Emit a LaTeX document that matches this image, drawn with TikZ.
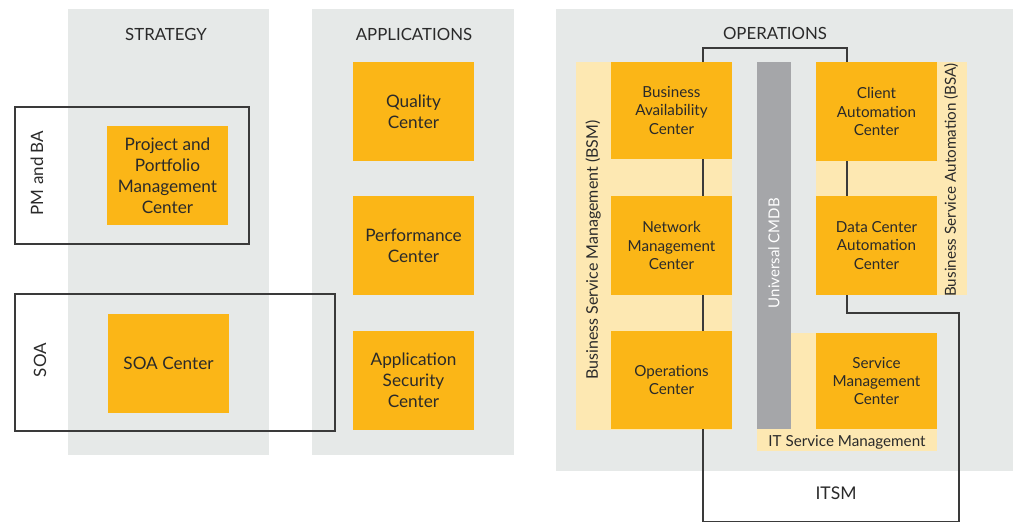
\documentclass[tikz,border=0pt]{standalone}
\usepackage{fontspec}
\setmainfont{Lato}
\usetikzlibrary{positioning}
\definecolor{hpgray}{HTML}{E6E9E8}
\definecolor{hporange}{HTML}{FBB617}
\definecolor{hplight}{HTML}{FDE8B2}
\definecolor{hpbar}{HTML}{A5A6A9}
\definecolor{hptext}{HTML}{2A2A2A}
\definecolor{hpline}{HTML}{3A3A3A}

\begin{document}
\begin{tikzpicture}[x=1pt, y=-1pt,
  prodbox/.style={fill=hporange, text=hptext, minimum width=121pt, minimum height=99pt, inner sep=2pt, align=center, font=\fontsize{17.2}{21}\selectfont},
  opbox/.style={prodbox, font=\fontsize{15.2}{18.3}\selectfont},
  head/.style={text=hptext, inner sep=0pt, font=\fontsize{16.8}{20}\selectfont},
  sidelabel/.style={text=hptext, rotate=90, inner sep=0pt, font=\fontsize{17}{19}\selectfont},
  bandlabel/.style={text=hptext, inner sep=0pt, font=\fontsize{15.2}{18}\selectfont},
  areaframe/.style={draw=hpline, line width=1.3pt},
]
\useasboundingbox (0,0) rectangle (1017,523);

% Columns
\fill[hpgray] (68,9) rectangle (269,455);
\fill[hpgray] (312,9) rectangle (514,455);
\fill[hpgray] (556,9) rectangle (1013,471);

\node[head] (strat) at (166,34) {STRATEGY};
\node[head] (apps) at (414,34) {APPLICATIONS};
\node[head] (ops) at (775,33) {OPERATIONS};

% Strategy areas
\draw[areaframe] (15,107) rectangle (249,244);
\node[sidelabel] (pmba) at (37,173) {PM and BA};
\draw[areaframe] (15,294) rectangle (335,431);
\node[sidelabel] (soa) at (40,360) {SOA};

\node[prodbox] (ppm) at (167.5,175.5) {Project and\\Portfolio\\Management\\Center};
\node[prodbox] (soac) at (168.5,363) {SOA Center};

% Applications
\node[prodbox] (qc) at (413.5,111.5) {Quality\\Center};
\node[prodbox] (pc) at (413.5,245.5) {Performance\\Center};
\node[prodbox] (asc) at (413.5,380.5) {Application\\Security\\Center};

% Operations bands
\fill[hplight] (576,62) rectangle (732,430);
\fill[hplight] (816,62) rectangle (967,295);
\fill[hplight] (757,333) rectangle (937,451);
\node[sidelabel, font=\fontsize{16}{18}\selectfont] (bsm) at (593,250) {Business Service Management (BSM)};
\node[sidelabel, font=\fontsize{15.2}{18}\selectfont] (bsa) at (951,180) {Business Service Automation (BSA)};
\node[bandlabel] (itsmband) at (847,442) {IT Service Management};

% Operations and ITSM outline
\draw[areaframe] (703,48) -- (847,48) -- (847,313) -- (959,313) -- (959,521.6) -- (703,521.6) -- cycle;
\node[head, font=\fontsize{17.5}{20}\selectfont] (itsm) at (836,493) {ITSM};

% Universal CMDB
\node[fill=hpbar, minimum width=34pt, minimum height=367pt, inner sep=0pt] (ucmdb) at (774,245.5) {};
\node[sidelabel, text=white, font=\fontsize{15}{18}\selectfont] (ucmdbtext) at (774,253) {Universal CMDB};

\node[opbox, minimum height=97pt] (bac) at (671.5,110.5) {Business\\Availability\\Center};
\node[opbox] (nmc) at (671.5,245.5) {Network\\Management\\Center};
\node[opbox, minimum height=98pt] (oc) at (671.5,380) {Operations\\Center};
\node[opbox] (ca) at (876.5,111.5) {Client\\Automation\\Center};
\node[opbox] (dca) at (876.5,245.5) {Data Center\\Automation\\Center};
\node[opbox, minimum height=96pt] (smc) at (876.5,381) {Service\\Management\\Center};

\end{tikzpicture}
\end{document}
